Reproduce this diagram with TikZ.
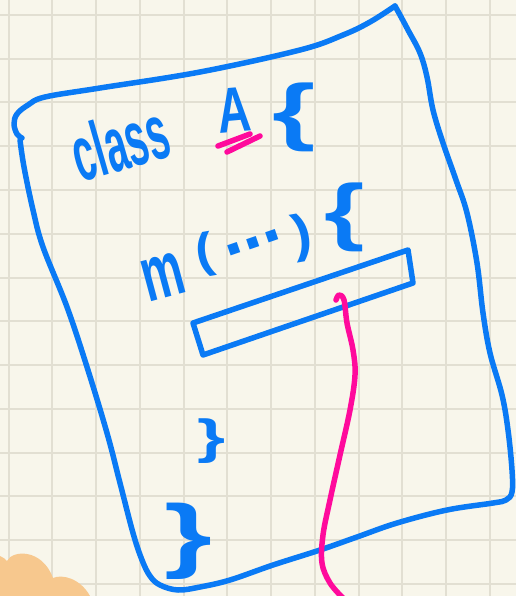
\documentclass[tikz,border=0pt]{standalone}
\usepackage{fontspec}
\newfontfamily\handfont{Liberation Sans Bold}
\newcommand{\hfs}[1]{\handfont\fontsize{#1}{#1}\selectfont}
\definecolor{paper}{RGB}{248,246,235}
\definecolor{gridc}{RGB}{226,223,210}
\definecolor{inkblue}{RGB}{10,122,245}
\definecolor{inkpink}{RGB}{255,10,156}
\definecolor{blob}{RGB}{247,200,142}
\begin{document}
\begin{tikzpicture}[x=1pt,y=-1pt,
  ink/.style={draw=inkblue, line width=5.5pt, line cap=round, line join=round},
  pinkink/.style={draw=inkpink, line width=5.5pt, line cap=round, line join=round},
  hand/.style={text=inkblue, inner sep=0pt, outer sep=0pt},
  gridline/.style={draw=gridc, line width=2pt}]
\useasboundingbox (0,0) rectangle (516,596);
\fill[paper] (0,0) rectangle (516,596);
\foreach \i in {0,...,11} \draw[gridline] ({8.5+43.75*\i},0) -- ({8.5+43.75*\i},596);
\foreach \j in {0,...,13} \draw[gridline] (0,{15+43.75*\j}) -- (516,{15+43.75*\j});
% orange blob
\fill[blob] (0,596) -- (0,556) .. controls (3,557) and (5,559) .. (7,561)
  .. controls (12,550) and (42,548) .. (53,578)
  .. controls (62,574) and (80,578) .. (90,596) -- cycle;
% page outline
\draw[ink] plot[smooth, tension=0.6] coordinates {(22,138) (17,134) (14,124) (17,114) (28,105) (45,97) (100,88) (200,72) (300,50) (343,35) (370,22) (395,6)};
\draw[ink] plot[smooth, tension=0.6] coordinates {(395,6) (400,15) (408,30) (420,53) (427,77) (433,110) (443,143) (456,180) (467,213) (477,263) (483,313) (490,353) (502,395) (508,430) (512,470) (512,492) (506,500) (493,503) (447,510) (397,523) (357,537) (320,550) (273,565) (230,580) (200,587) (178,590) (160,585) (150,576) (142,560) (133,533) (120,483) (107,433) (87,367) (67,307) (43,247) (33,210) (24,167) (20,140)};
% method body box
\draw[ink] (193,323) -- (408,250) -- (413,283) -- (203,355) -- cycle;
% texts
\node[hand, font=\hfs{78}, rotate=16, xscale=0.5] (cls) at (120,142) {class};
\node[hand, font=\hfs{64}, rotate=5, xscale=0.72] (A) at (234,110) {A};
\node[hand, font=\hfs{74}, xscale=1.5] (ob1) at (294,117) {\{};
\node[hand, font=\hfs{78}, rotate=15, xscale=0.6] (m) at (163,277) {m};
\node[hand, font=\hfs{48}, rotate=10, xscale=1.1] (lp) at (205,255) {(};
\node[hand, font=\hfs{72}, rotate=19] (dots) at (253,243) {...};
\node[hand, font=\hfs{52}, rotate=10, xscale=1.1] (rp) at (303,238) {)};
\node[hand, font=\hfs{74}, xscale=1.4] (ob2) at (345,217) {\{};
\node[hand, font=\hfs{48}, xscale=1.5] (cb1) at (212,441) {\}};
\node[hand, font=\hfs{82}, xscale=1.5] (cb2) at (188,541) {\}};
% pink underline of A
\draw[pinkink] (218,146) -- (250,134);
\draw[pinkink] (227,152) -- (260,136);
% pink curve
\draw[pinkink] plot[smooth, tension=0.6] coordinates {(336,300) (339,295) (344,300) (347,323) (353,350) (355,375) (350,410) (340,455) (330,500) (323,535) (322,563) (330,583) (343,598)};
\end{tikzpicture}
\end{document}
